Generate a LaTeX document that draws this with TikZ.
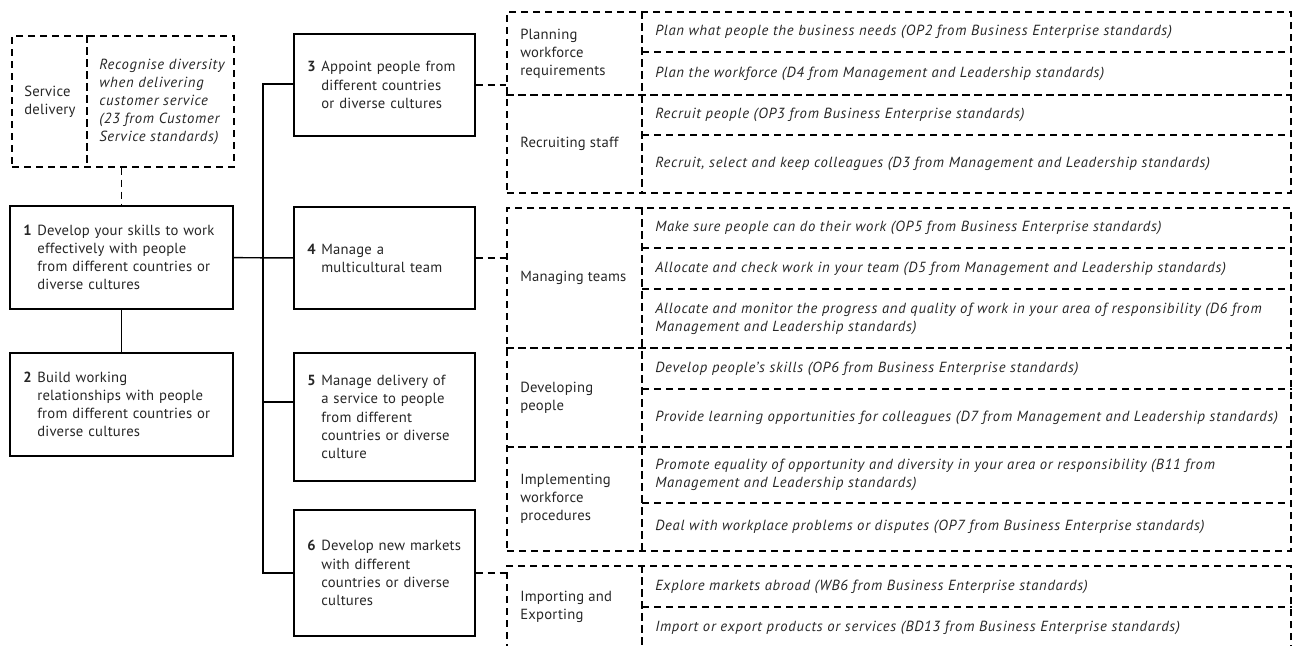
\documentclass[tikz,border=0pt]{standalone}
\usepackage{fontspec}
\setmainfont{PT Sans}[LetterSpace=1.5, ItalicFeatures={LetterSpace=5}]
\usetikzlibrary{positioning}

% number in front of a unit title, and the matching indent
\newcommand{\unitno}[1]{\hspace*{10pt}\makebox[10.5pt][l]{\textbf{#1}}}
\newcommand{\indt}{\hspace*{20.5pt}}

\begin{document}
\begin{tikzpicture}[
			x=0.75pt, y=-0.75pt,
			font=\fontsize{11}{13.6}\selectfont,
			text=black!85,
			% Styles
			unitbox/.style={draw, line width=1.1pt, align=left, inner sep=0pt},
			leftbox/.style={unitbox, text width=167.25pt, minimum height=77.25pt},
			midbox/.style={unitbox, text width=135.75pt},
			dashline/.style={line width=1pt, dash pattern=on 5.5pt off 3.5pt},
			dashbox/.style={draw, dashline, inner sep=0pt},
			link/.style={line width=1.1pt},
			txt/.style={inner sep=0pt, align=left, anchor=west},
			cell/.style={txt, font=\fontsize{11}{13.6}\selectfont\itshape}
			]
			\useasboundingbox (0,0) rectangle (1292,646);
			
			% --- 1. Left column ---
			\node[dashbox, minimum width=166.5pt, minimum height=98.25pt] (sd) at (123,101.5) {};
			\draw[dashline] (sd.north -| 87,0) -- (sd.south -| 87,0);
			\node[txt] (sdl) at (24,101.5) {Service\\delivery};
			\node[cell] (sdt) at (99,102) {Recognise diversity\\when delivering\\customer service\\(23 from Customer\\Service standards)};
			
			\node[leftbox] (u1) at (121.5,257.5) {\unitno{1}Develop your skills to work\\\indt effectively with people\\\indt from different countries or\\\indt diverse cultures};
			\node[leftbox] (u2) at (121.5,404.5) {\unitno{2}Build working\\\indt relationships with people\\\indt from different countries or\\\indt diverse cultures};
			
			\draw[dashline] (sd.south -| u1.north) -- (u1.north);
			\draw[link] (u1) -- (u2);
			
			% --- 2. Middle column ---
			\node[midbox, minimum height=76.5pt] (u3) at (384.5,85) {\unitno{3}Appoint people from\\\indt different countries\\\indt or diverse cultures};
			\node[midbox, minimum height=76.5pt] (u4) at (384.5,258) {\unitno{4}Manage a\\\indt multicultural team};
			\node[midbox, minimum height=96pt] (u5) at (384.5,417) {\unitno{5}Manage delivery of\\\indt a service to people\\\indt from different\\\indt countries or diverse\\\indt culture};
			\node[midbox, minimum height=94.5pt] (u6) at (384.5,573) {\unitno{6}Develop new markets\\\indt with different\\\indt countries or diverse\\\indt cultures};
			
			% Trunk from unit 1 to units 3-6
			\coordinate (jn) at (263,257);
			\draw[link] (u1) -- (u4);
			\draw[link] ([yshift=0.75pt]u3.west) -| (jn);
			\draw[link] ([yshift=11.25pt]u5.west) -| (jn);
			\draw[link] (u6.west) -| (jn);
			
			% --- 3. Standards table ---
			\node[dashbox, minimum width=588pt, minimum height=135.75pt] (g1) at (899,102.5) {};
			\node[dashbox, minimum width=588pt, minimum height=257.25pt] (g2) at (899,379.5) {};
			\node[dashbox, minimum width=588pt, minimum height=61.5pt] (g3) at (899,607) {};
			
			\foreach \g in {g1,g2,g3}
			\draw[dashline] (\g.north -| 642,0) -- (\g.south -| 642,0);
			\foreach \g/\y in {g1/95, g2/348, g2/447}
			\draw[dashline] (\g.west |- 0,\y) -- (\g.east |- 0,\y);
			\foreach \g/\y in {g1/52, g1/135, g2/248, g2/289, g2/389, g2/503, g3/607}
			\draw[dashline] (642,\y) -- (\g.east |- 0,\y);
			
			% Links to the table
			\draw[dashline] (u3.east) -- (u3.east -| g1.west);
			\draw[dashline] (u4.east) -- (u4.east -| g2.west);
			\draw[dashline] (u6.east) -- (u6.east -| g3.west);
			
			% Section labels
			\node[txt] (s1) at (520,53.5) {Planning\\workforce\\requirements};
			\node[txt] (s2) at (520,144) {Recruiting staff};
			\node[txt] (s3) at (520,278) {Managing teams};
			\node[txt] (s4) at (520,397.5) {Developing\\people};
			\node[txt] (s5) at (520,499) {Implementing\\workforce\\procedures};
			\node[txt] (s6) at (520,607) {Importing and\\Exporting};
			
			% Standards
			\node[cell] (c1) at (655,32) {Plan what people the business needs (OP2 from Business Enterprise standards)};
			\node[cell] (c2) at (655,73.5) {Plan the workforce (D4 from Management and Leadership standards)};
			\node[cell] (c3) at (655,115) {Recruit people (OP3 from Business Enterprise standards)};
			\node[cell] (c4) at (655,164) {Recruit, select and keep colleagues (D3 from Management and Leadership standards)};
			\node[cell] (c5) at (655,228) {Make sure people can do their work (OP5 from Business Enterprise standards)};
			\node[cell] (c6) at (655,268.5) {Allocate and check work in your team (D5 from Management and Leadership standards)};
			\node[cell] (c7) at (655,319) {Allocate and monitor the progress and quality of work in your area of responsibility (D6 from\\Management and Leadership standards)};
			\node[cell] (c8) at (655,368.5) {Develop people’s skills (OP6 from Business Enterprise standards)};
			\node[cell] (c9) at (655,418) {Provide learning opportunities for colleagues (D7 from Management and Leadership standards)};
			\node[cell] (c10) at (655,475) {Promote equality of opportunity and diversity in your area or responsibility (B11 from\\Management and Leadership standards)};
			\node[cell] (c11) at (655,527) {Deal with workplace problems or disputes (OP7 from Business Enterprise standards)};
			\node[cell] (c12) at (655,586.5) {Explore markets abroad (WB6 from Business Enterprise standards)};
			\node[cell] (c13) at (655,627.5) {Import or export products or services (BD13 from Business Enterprise standards)};
			
		\end{tikzpicture}
\end{document}
